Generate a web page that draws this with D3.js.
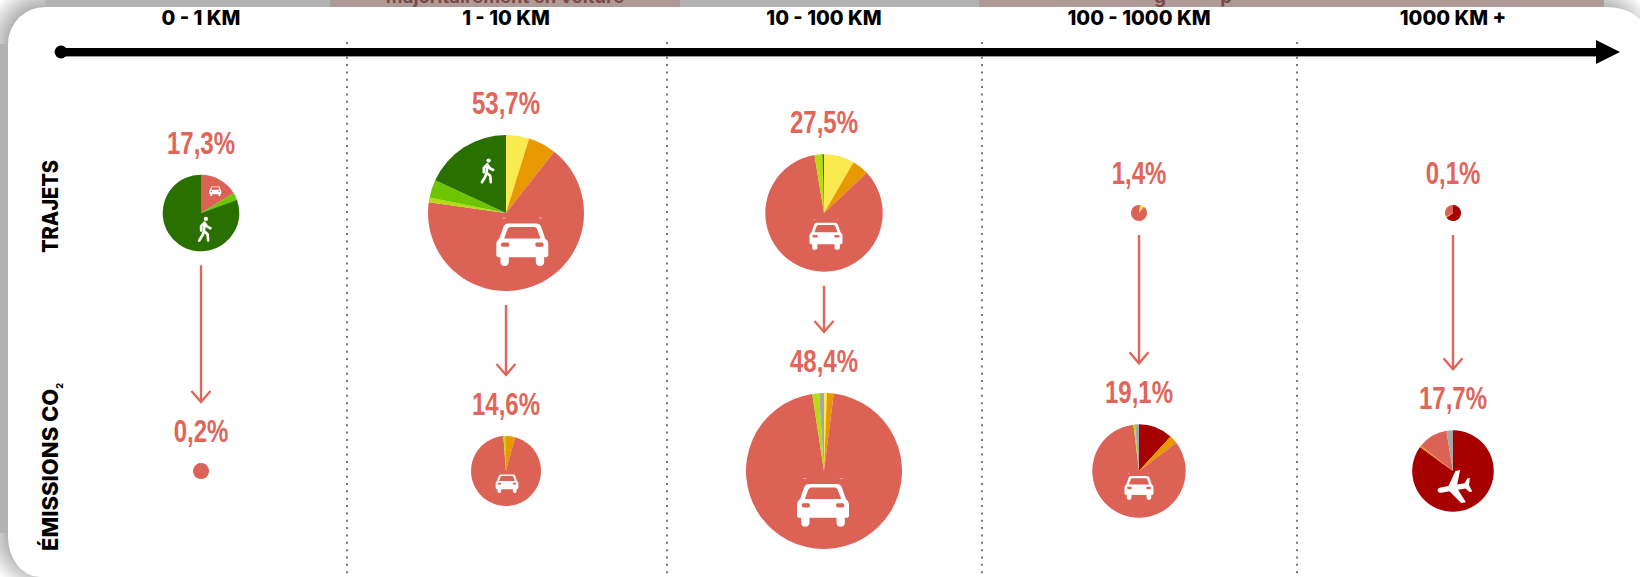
<!DOCTYPE html>
<html>
<head>
<meta charset="utf-8">
<script src="https://cdn.jsdelivr.net/npm/d3@7"></script>
<style>
  html, body { margin: 0; padding: 0; background: #fff; }
  svg { display: block; }
</style>
</head>
<body>
<div id="content"></div>
<script>
(function() {

// Data
var distances = ['0 - 1 KM', '1 - 10 KM', '10 - 100 KM', '100 - 1000 KM', '1000 KM +'];
var rows = ['trajets', 'emissions'];
var rowLabels = ['TRAJETS', 'ÉMISSIONS CO'];
var trajetsShare = ['17,3%', '53,7%', '27,5%', '1,4%', '0,1%'];
var emissionsShare = ['0,2%', '14,6%', '48,4%', '19,1%', '17,7%'];
var modes = ['voiture', 'marche', 'velo', 'deuxRoues', 'bus', 'train', 'avion', 'autre'];

// slices run clockwise from 12 o'clock, values in % of the pie
var trajetsMix = [
  [['voiture', 16.4], ['velo', 3], ['marche', 80.6]],
  [['bus', 4.8], ['train', 5.8], ['voiture', 66.6], ['deuxRoues', 1], ['velo', 3.7], ['marche', 18.1]],
  [['bus', 8.4], ['train', 4.6], ['voiture', 84.4], ['deuxRoues', 2.2], ['marche', 0.4]],
  [['voiture', 2.5], ['bus', 8], ['voiture', 89.5]],
  [['avion', 65], ['train', 2], ['voiture', 33]]
];
var emissionsMix = [
  [['voiture', 99.6], ['marche', 0.4]],
  [['train', 4.2], ['voiture', 94.6], ['deuxRoues', 1.2]],
  [['bus', 0.6], ['train', 1.4], ['voiture', 95.6], ['deuxRoues', 1.4], ['autre', 1]],
  [['avion', 11.8], ['train', 2.9], ['voiture', 83.4], ['deuxRoues', 0.5], ['autre', 1.4]],
  [['avion', 85], ['train', 0.6], ['voiture', 11.8], ['autre', 2.6]]
];

var width = 1640, height = 577;

var svg = d3.select('#content')
  .append('svg')
  .attr('width', width)
  .attr('height', height);

// Column centres and rows are not evenly spaced in the original
var x = d3.scaleOrdinal().domain(distances).range([201, 506, 824, 1139, 1453]);
var y = d3.scaleOrdinal().domain(rows).range([213, 471]);
var separators = [347, 667, 982, 1297];

// Pie radius from the printed share
var radius = d3.scaleLinear()
  .domain([1.4, 14.6, 17.3, 17.7, 19.1, 27.5, 48.4, 53.7])
  .range([8, 35, 38.3, 40.8, 46.7, 58.7, 78, 78])
  .clamp(true);

var modeColor = d3.scaleOrdinal().domain(modes)
  .range(['#dd6256', '#2a7000', '#6dc400', '#b5dc10', '#fbe950', '#e89800', '#a60000', '#a6a6a6']);

var labelColor = '#e0665a';

// Frame behind the card: grey band, pink title strips cut by the card
var defs = svg.append('defs');
var corner = defs.append('radialGradient').attr('id', 'corner')
  .attr('gradientUnits', 'userSpaceOnUse')
  .attr('cx', 45).attr('cy', 44).attr('r', 62);
corner.append('stop').attr('offset', 0.6).attr('stop-color', '#b3b3b3');
corner.append('stop').attr('offset', 1).attr('stop-color', '#ffffff');
defs.append('clipPath').attr('id', 'strip')
  .append('rect').attr('width', width).attr('height', 7);

svg.append('rect').attr('width', width).attr('height', height).attr('fill', '#b3b3b3');
svg.append('rect').attr('x', 330).attr('width', 350).attr('height', 7).attr('fill', '#b09a98');
svg.append('rect').attr('x', 979).attr('width', 625).attr('height', 7).attr('fill', '#b09a98');

var corners = [[0, 0, 1, 1, 45], [width, 0, -1, 1, 36], [0, height, 1, -1, 45]];
corners.forEach(function(c) {
  svg.append('rect')
    .attr('transform', 'translate(' + c[0] + ',' + c[1] + ') scale(' + c[2] + ',' + c[3] + ')')
    .attr('width', c[4]).attr('height', 44)
    .attr('fill', 'url(#corner)');
});

var strip = svg.append('g').attr('clip-path', 'url(#strip)')
  .attr('fill', '#7a4a48')
  .style('font-family', 'Inter, sans-serif')
  .style('font-weight', 700)
  .style('font-size', '18.5px');
strip.append('text').attr('x', 505).attr('y', 3).attr('text-anchor', 'middle').text('majoritairement en voiture');
strip.append('text').attr('x', 1160).attr('y', 3).attr('text-anchor', 'middle').text('g');
strip.append('text').attr('x', 1226).attr('y', 3).attr('text-anchor', 'middle').text('p');

svg.append('path')
  .attr('fill', '#fff')
  .attr('d', 'M8,537 V44 A37,37 0 0 1 45,7 H1604 Q1632,7 ' + (width + 4) + ',24 V' + height + ' H40 A32,40 0 0 1 8,537 Z');

// Dotted separators
svg.selectAll('.separator')
  .data(separators)
  .enter().append('line')
  .attr('class', 'separator')
  .attr('x1', function(d) { return d; })
  .attr('x2', function(d) { return d; })
  .attr('y1', 42)
  .attr('y2', height)
  .attr('stroke', '#777')
  .attr('stroke-width', 2)
  .attr('stroke-dasharray', '2 5.35');

// Distance axis
var axis = svg.append('g');
axis.append('rect').attr('x', 60).attr('y', 48).attr('width', 1537).attr('height', 8.4).attr('fill', '#000');
axis.append('circle').attr('cx', 61).attr('cy', 52).attr('r', 6.4).attr('fill', '#000');
axis.append('path').attr('d', 'M1596,40 L1620,52 L1596,64 Z').attr('fill', '#000');

svg.selectAll('.distance')
  .data(distances)
  .enter().append('text')
  .attr('class', 'distance')
  .attr('x', function(d) { return x(d); })
  .attr('y', 25)
  .attr('text-anchor', 'middle')
  .style('font-family', 'Inter, sans-serif')
  .style('font-weight', 800)
  .style('font-size', '20px')
  .attr('fill', '#000')
  .text(function(d) { return d; });

// Row titles
svg.append('text')
  .attr('transform', 'translate(58,253) rotate(-90) scale(0.91,1)')
  .style('font-family', 'Inter, sans-serif')
  .style('font-weight', 800)
  .style('font-size', '22px')
  .attr('fill', '#000')
  .text(rowLabels[0]);

var co2 = svg.append('text')
  .attr('transform', 'translate(58,551) rotate(-90)')
  .style('font-family', 'Inter, sans-serif')
  .style('font-weight', 800)
  .style('font-size', '22px')
  .attr('fill', '#000')
  .text(rowLabels[1]);
co2.append('tspan').attr('dy', 5).style('font-size', '9px').text('2');

// Icons: drawn in a 100 unit wide box and scaled
var carPath = 'M-27 -41 H27 Q33 -41 36 -35 L44 -12 Q50 -8 50 -2 V19 Q50 24 45 24 H42 V33 Q42 41 34 41 Q26 41 26 33 V24 H-26 V33 Q-26 41 -34 41 Q-42 41 -42 33 V24 H-45 Q-50 24 -50 19 V-2 Q-50 -8 -44 -12 L-36 -35 Q-33 -41 -27 -41 Z ' +
  'M-24 -34 L-28 -31 L-35 -12 H35 L28 -31 L24 -34 Z ' +
  'M-38 -4 Q-41 -4 -41 0 Q-41 4 -38 4 H-28 Q-25 4 -25 0 Q-25 -4 -28 -4 Z ' +
  'M38 -4 Q41 -4 41 0 Q41 4 38 4 H28 Q25 4 25 0 Q25 -4 28 -4 Z';
var walkerLines = 'M2 -26 L0 8 L-6 25 L-20 48 M0 8 L15 22 L17 48 M2 -26 L-12 -12 L-12 6 M2 -26 L13 -10 L27 -3';
var planePath = 'M0 -50 Q8 -50 8 -36 V-16 L48 12 V26 L8 10 V32 L20 42 V50 L0 44 L-20 50 V42 L-8 32 V10 L-48 26 V12 L-8 -16 V-36 Q-8 -50 0 -50 Z';

function drawCar(g, dx, dy, w) {
  var c = g.append('g').attr('transform', 'translate(' + dx + ',' + dy + ') scale(' + (w / 100) + ')');
  c.append('path').attr('d', carPath).attr('fill', '#fff').attr('fill-rule', 'evenodd');
  // the two little marks above the roof
  c.append('rect').attr('x', -38).attr('y', -52).attr('width', 6).attr('height', 1.5).attr('fill', '#fff').attr('opacity', 0.6);
  c.append('rect').attr('x', 32).attr('y', -52).attr('width', 6).attr('height', 1.5).attr('fill', '#fff').attr('opacity', 0.6);
}

function drawWalker(g, dx, dy, h) {
  var c = g.append('g').attr('transform', 'translate(' + dx + ',' + dy + ') scale(' + (h / 100) + ')');
  c.append('circle').attr('cx', 8).attr('cy', -42).attr('r', 9).attr('fill', '#fff');
  c.append('path').attr('d', walkerLines)
    .attr('fill', 'none').attr('stroke', '#fff').attr('stroke-width', 11)
    .attr('stroke-linecap', 'round').attr('stroke-linejoin', 'round');
}

function drawPlane(g, dx, dy, h) {
  g.append('path')
    .attr('transform', 'translate(' + dx + ',' + dy + ') rotate(-100) scale(' + (h / 100) + ')')
    .attr('d', planePath)
    .attr('fill', '#fff');
}

var pie = d3.pie().sort(null).value(function(d) { return d[1]; });

function drawPie(row, i, share, mix) {
  var d = distances[i];
  var r = radius(parseFloat(share.replace(',', '.')));
  var g = svg.append('g')
    .attr('class', 'pie')
    .attr('transform', 'translate(' + x(d) + ',' + y(row) + ')');

  g.selectAll('path')
    .data(pie(mix))
    .enter().append('path')
    .attr('d', d3.arc().innerRadius(0).outerRadius(r))
    .attr('fill', function(s) { return modeColor(s.data[0]); });

  // Percentage above the pie, squeezed to look like the condensed original
  g.append('text')
    .attr('transform', 'translate(0,' + (-r - 21) + ') scale(0.75,1)')
    .attr('text-anchor', 'middle')
    .style('font-family', '"Liberation Sans", sans-serif')
    .style('font-weight', 700)
    .style('font-size', '32px')
    .attr('fill', labelColor)
    .text(share);

  return g;
}

var trajetsPies = trajetsShare.map(function(s, i) { return drawPie('trajets', i, s, trajetsMix[i]); });
var emissionsPies = emissionsShare.map(function(s, i) { return drawPie('emissions', i, s, emissionsMix[i]); });

drawCar(trajetsPies[0], 14.3, -21.7, 12);
drawWalker(trajetsPies[0], 3, 16, 24);
drawCar(trajetsPies[1], 16.3, 31.7, 52);
drawWalker(trajetsPies[1], -19.3, -42.3, 24);
drawCar(trajetsPies[2], 2, 23.3, 33);
drawCar(emissionsPies[1], 1, 12.7, 22.7);
drawCar(emissionsPies[2], -1, 34.3, 52);
drawCar(emissionsPies[3], 0, 17, 29);
drawPlane(emissionsPies[4], 1.3, 16.7, 34);

// Arrows from trips to emissions
var labelGap = 21, labelHeight = 24;
distances.forEach(function(d, i) {
  var r1 = radius(parseFloat(trajetsShare[i].replace(',', '.')));
  var r2 = radius(parseFloat(emissionsShare[i].replace(',', '.')));
  var x0 = x(d);
  var y0 = y('trajets') + r1 + 14;
  var y1 = y('emissions') - r2 - labelGap - labelHeight - 16;
  var arrow = svg.append('g')
    .attr('fill', 'none')
    .attr('stroke', labelColor)
    .attr('stroke-width', 2.4);
  arrow.append('line').attr('x1', x0).attr('x2', x0).attr('y1', y0).attr('y2', y1);
  arrow.append('path').attr('d', d3.line()([[x0 - 9.5, y1 - 11], [x0, y1], [x0 + 9.5, y1 - 11]]));
});

})();
</script>
</body>
</html>
